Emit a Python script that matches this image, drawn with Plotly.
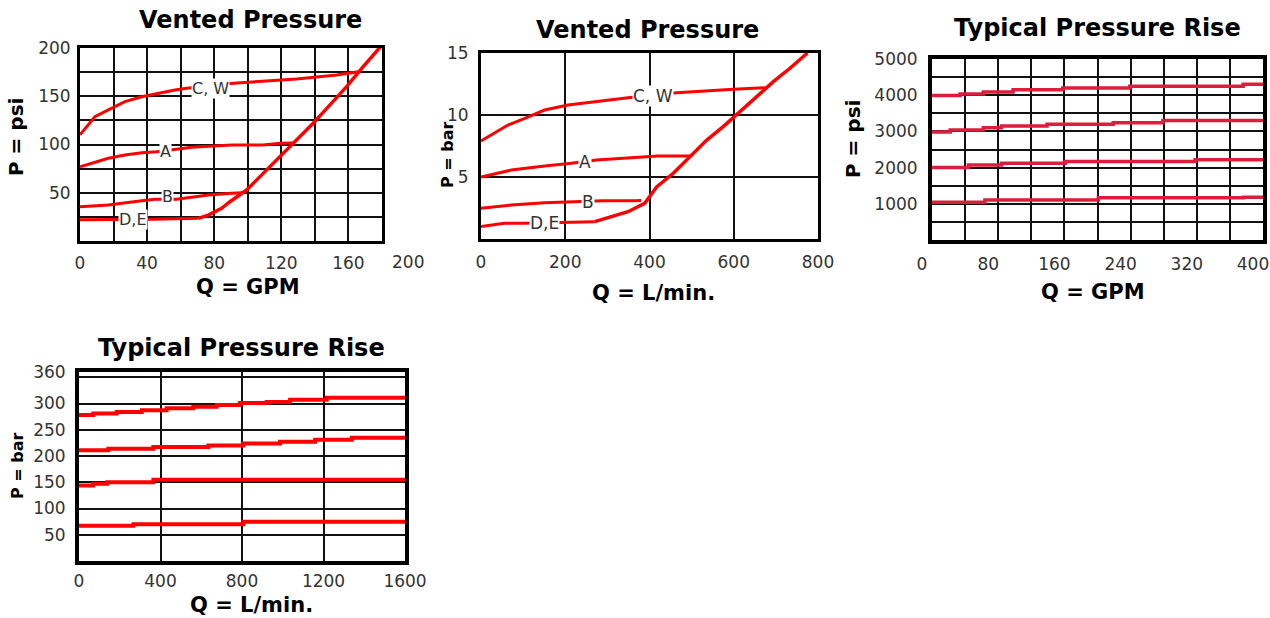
import plotly.graph_objects as go

W, H = 1270, 618

# ---------------- data ----------------
# Chart 1: Vented Pressure (GPM, psi)
cw1_q = [0, 8.9, 16.9, 26.8, 36.8, 46.7, 56.6, 63.6, 91.4, 113.2, 129.1, 153.0, 165.9]
cw1_p = [110, 128.8, 135.8, 144.4, 149.5, 153.1, 156.5, 158.2, 163.4, 166.1, 167.9, 172.0, 175.4]
a1_q = [0, 16.9, 26.8, 36.8, 45.7, 55.6, 66.6, 90.4, 109.2, 119.2, 127.1]
a1_p = [77, 85.7, 89.1, 91.5, 92.5, 95.0, 97.1, 99.5, 99.5, 101.2, 101.6]
b1_q = [0, 16.9, 36.8, 44.7, 57.6, 76.5, 90.4, 97]
b1_p = [35.5, 37.3, 41.8, 43.2, 43.2, 47.7, 49.4, 50]
de1_q = [0, 19.8, 43.7, 70.5]
de1_p = [22, 22, 22.5, 23.5]
rise1_q = [70.5, 76.5, 84.4, 89.4, 99.3, 109.2, 119.2, 129.1, 139.0, 149.0, 158.9, 168.8, 178.8]
rise1_p = [23.5, 26.9, 33.9, 40.7, 52.8, 70.2, 87.4, 104.7, 122.0, 141.0, 159.9, 180.6, 200.7]
lab1_text = ["C, W", "A", "B", "D,E"]
lab1_q = [77.5, 50.7, 52.1, 31.6]
lab1_p = [158, 92.7, 45.6, 21.8]

# Chart 2: Vented Pressure (L/min, bar)
cw2_q = [0, 32.5, 64, 104, 151, 206.5, 270, 349, 464.6, 535.8, 599, 678]
cw2_p = [7.9, 8.52, 9.19, 9.73, 10.4, 10.8, 11.07, 11.4, 11.8, 11.96, 12.07, 12.2]
a2_q = [0, 72, 151, 214, 274, 333, 420, 496]
a2_p = [5.0, 5.56, 5.89, 6.1, 6.37, 6.5, 6.7, 6.7]
b2_q = [0, 72, 151, 222, 289.6, 365, 380]
b2_p = [2.48, 2.74, 2.93, 3.0, 3.09, 3.09, 3.1]
de2_q = [0, 56, 100, 194.7, 270]
de2_p = [1.0, 1.27, 1.27, 1.31, 1.4]
rise2_q = [270, 309, 349, 388.6, 417, 456.5, 496, 536, 575, 615, 654.5, 694, 733.5, 775]
rise2_p = [1.4, 1.8, 2.2, 2.88, 4.2, 5.3, 6.64, 7.98, 9.06, 10.27, 11.48, 12.69, 13.77, 15.0]
lab2_text = ["C, W", "A", "B", "D,E"]
lab2_q = [408, 248, 255, 151]
lab2_p = [11.5, 6.2, 3.0, 1.27]

# Chart 3: Typical Pressure Rise (GPM, psi) - stepped
r3_1_q = [0, 34, 62, 98, 158, 239, 376, 400]
r3_1_p = [3990, 4030, 4090, 4150, 4200, 4250, 4300, 4300]
r3_2_q = [0, 22, 62, 84, 139, 219, 279, 400]
r3_2_p = [2980, 3040, 3100, 3150, 3200, 3240, 3300, 3300]
r3_3_q = [0, 44, 84, 161, 318, 400]
r3_3_p = [2000, 2070, 2120, 2170, 2220, 2220]
r3_4_q = [0, 64, 201, 376, 400]
r3_4_p = [1045, 1105, 1170, 1180, 1180]

# Chart 4: Typical Pressure Rise (L/min, bar) - stepped
r4_1_q = [0, 70, 185, 308, 430, 561, 676, 790, 921, 1036, 1216, 1600]
r4_1_p = [278, 281, 284, 287, 291, 294, 297, 301, 303, 307, 311, 311]
r4_2_q = [0, 144, 365, 635, 807, 987, 1159, 1339, 1600]
r4_2_p = [211, 214, 217, 220, 224, 227, 231, 235, 235]
r4_3_q = [0, 70, 139, 365, 1600]
r4_3_p = [144, 147, 150, 155, 155]
r4_4_q = [0, 267, 807, 1600]
r4_4_p = [67, 70, 75, 75]

RED = "#ff0000"
CRIMSON = "#dc1e3c"
TICKFONT = dict(family="DejaVu Sans", size=17, color="#333333")


def px_x(x):
    return x / W


def px_y(y):
    return 1 - y / H


fig = go.Figure()


def add_line(q, p, xa, ya, color=RED, width=3, shape="linear"):
    fig.add_trace(go.Scatter(x=q, y=p, xaxis=xa, yaxis=ya, mode="lines",
                             line=dict(color=color, width=width, shape=shape),
                             hoverinfo="skip", showlegend=False))


# chart 1
for q, p in [(cw1_q, cw1_p), (a1_q, a1_p), (b1_q, b1_p), (de1_q, de1_p)]:
    add_line(q, p, "x", "y")
add_line(rise1_q, rise1_p, "x", "y", width=3.5)
# chart 2
for q, p in [(cw2_q, cw2_p), (a2_q, a2_p), (b2_q, b2_p), (de2_q, de2_p)]:
    add_line(q, p, "x2", "y2")
add_line(rise2_q, rise2_p, "x2", "y2", width=3.5)
# chart 3
for q, p in [(r3_1_q, r3_1_p), (r3_2_q, r3_2_p), (r3_3_q, r3_3_p), (r3_4_q, r3_4_p)]:
    add_line(q, p, "x3", "y3", color=CRIMSON, width=3.5, shape="hv")
# chart 4
for q, p in [(r4_1_q, r4_1_p), (r4_2_q, r4_2_p), (r4_3_q, r4_3_p), (r4_4_q, r4_4_p)]:
    add_line(q, p, "x4", "y4", width=4, shape="hv")


def axis(dom_px, rng, anchor, lw=3, minor_dtick=None, vertical=False, **kw):
    if vertical:
        dom = [px_y(dom_px[0]), px_y(dom_px[1])]
    else:
        dom = [px_x(dom_px[0]), px_x(dom_px[1])]
    d = dict(domain=dom, range=rng, anchor=anchor, showline=True, mirror=True,
             linecolor="black", linewidth=lw, showgrid=True, gridcolor="#111111",
             gridwidth=2, zeroline=False, ticks="", tickfont=TICKFONT,
             fixedrange=True, automargin=False, ticklabeloverflow="allow")
    if minor_dtick:
        d["minor"] = dict(dtick=minor_dtick, tick0=0, showgrid=True,
                          gridcolor="#111111", gridwidth=2, ticks="")
    d.update(kw)
    return d


layout = dict(
    template="none",
    width=W, height=H, autosize=False,
    margin=dict(l=0, r=0, t=0, b=0, pad=0),
    paper_bgcolor="white", plot_bgcolor="white",
    showlegend=False,
    xaxis=axis([80, 382], [0, 180], "y", minor_dtick=20, tickmode="linear",
               tick0=0, dtick=40, ticklabelstandoff=5),
    yaxis=axis([241, 48], [0, 200], "x", minor_dtick=25, vertical=True,
               tickmode="array", tickvals=[50, 100, 150, 200], ticklabelstandoff=3),
    xaxis2=axis([481, 818], [0, 800], "y2", tickmode="linear", tick0=0,
                dtick=200, ticklabelstandoff=6),
    yaxis2=axis([239, 53], [0, 15], "x2", vertical=True, tickmode="array",
                tickvals=[5, 10, 15], ticklabelstandoff=6),
    xaxis3=axis([932, 1263], [0, 400], "y3", lw=4, minor_dtick=40,
                tickmode="linear", tick0=0, dtick=80, ticklabelstandoff=6,
                ticklabelshift=-10),
    yaxis3=axis([240, 59], [0, 5000], "x3", lw=4, minor_dtick=500, vertical=True,
                tickmode="array", tickvals=[1000, 2000, 3000, 4000, 5000],
                ticklabelstandoff=7),
    xaxis4=axis([79, 405], [0, 1600], "y4", lw=4, tickmode="linear", tick0=0,
                dtick=400, ticklabelstandoff=2),
    yaxis4=axis([561, 372], [0, 360], "x4", lw=4, minor_dtick=50, vertical=True,
                tickmode="array", tickvals=[50, 100, 150, 200, 250, 300, 360],
                ticklabelstandoff=6),
)
fig.update_layout(**layout)

ann = []


def text_px(txt, x, y, size, bold=True, angle=0, color="black"):
    ann.append(dict(text=txt, x=px_x(x), y=px_y(y), xref="paper", yref="paper",
                    xanchor="center", yanchor="middle", showarrow=False,
                    textangle=angle,
                    font=dict(family="DejaVu Sans", size=size, color=color,
                              weight="bold" if bold else "normal")))


text_px("Vented Pressure", 250, 20, 24)
text_px("Vented Pressure", 647, 30, 24)
text_px("Typical Pressure Rise", 1097.5, 28, 24)
text_px("Typical Pressure Rise", 241, 348, 24)
text_px("Q = GPM", 248, 287, 21)
text_px("Q = L/min.", 654, 293, 21)
text_px("Q = GPM", 1092.5, 292, 21)
text_px("Q = L/min.", 251, 605, 21)
text_px("P = psi", 16, 137, 20, angle=-90)
text_px("P = bar", 448, 155, 16, angle=-90)
text_px("P = psi", 853, 139, 20, angle=-90)
text_px("P = bar", 17, 466, 16, angle=-90)
# outer x label of chart 1 (beyond the plotted range in the original)
text_px("200", 408, 262, 17, bold=False, color="#333333")

for t, q, p in zip(lab1_text, lab1_q, lab1_p):
    ann.append(dict(text=t, x=q, y=p, xref="x", yref="y", showarrow=False,
                    bgcolor="white", borderpad=0,
                    font=dict(family="DejaVu Sans", size=16, color="#333333")))
for t, q, p in zip(lab2_text, lab2_q, lab2_p):
    ann.append(dict(text=t, x=q, y=p, xref="x2", yref="y2", showarrow=False,
                    bgcolor="white", borderpad=0,
                    font=dict(family="DejaVu Sans", size=17, color="#333333")))

fig.update_layout(annotations=ann)
fig.write_html(
    "out.html",
    config={"displayModeBar": False, "staticPlot": True},
    post_script="document.body.style.margin='0px';document.body.style.overflow='hidden';",
)
